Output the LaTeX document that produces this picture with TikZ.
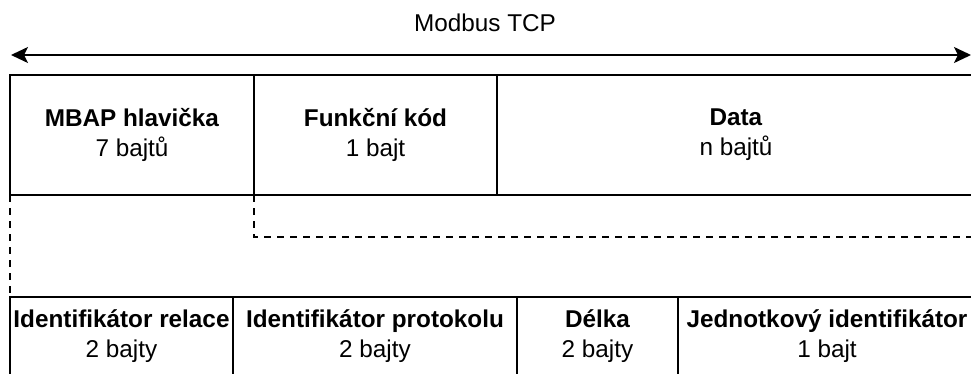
\documentclass[tikz,border=0pt]{standalone}
\usepackage{fontspec}
\setmainfont{Liberation Sans}
\usetikzlibrary{positioning,arrows.meta}

\begin{document}
\begin{tikzpicture}[x=1pt, y=-1pt,
  frame/.style={draw, line width=1.8pt, inner sep=0pt, outer sep=0pt,
    align=center, font=\fontsize{24.3}{30}\selectfont},
  toprow/.style={frame, minimum height=120pt},
  bottomrow/.style={frame, minimum height=78pt},
  guide/.style={line width=1.8pt, dash pattern=on 7pt off 6pt}
]

\useasboundingbox (0,0) rectangle (971,374);
\clip (0,0) rectangle (971,374);

% whole frame span
\node (tcp) at (485,23) {\fontsize{24.3}{30}\selectfont Modbus TCP};
\coordinate (tcpL) at (11,55);
\coordinate (tcpR) at (971,55);
\draw[{Stealth[length=17pt,width=16pt,inset=4pt]}-{Stealth[length=17pt,width=16pt,inset=4pt]}, line width=1.8pt]
  (tcpL) -- (tcpR);

% PDU row
\node[toprow, minimum width=244pt, anchor=north west] (mbap) at (10,75)
  {\textbf{MBAP hlavička}\\7 bajtů};
\node[toprow, minimum width=243pt, right=0pt of mbap] (func)
  {\textbf{Funkční kód}\\1 bajt};
\node[toprow, minimum width=478pt, right=0pt of func] (data)
  {\textbf{Data}\\n bajtů};

% MBAP header fields
\node[bottomrow, minimum width=223pt, anchor=north west] (relace) at (10,297)
  {\textbf{Identifikátor relace}\\2 bajty};
\node[bottomrow, minimum width=284pt, right=0pt of relace] (protokol)
  {\textbf{Identifikátor protokolu}\\2 bajty};
\node[bottomrow, minimum width=161pt, right=0pt of protokol] (delka)
  {\textbf{Délka}\\2 bajty};
\node[bottomrow, minimum width=298pt, right=0pt of delka] (jednotka)
  {\textbf{Jednotkový identifikátor}\\1 bajt};

% dashed guides
\coordinate (pduend) at (990,237);
\draw[guide] (mbap.south west) -- (relace.north west);
\draw[guide] (func.south west) |- (pduend);

\end{tikzpicture}
\end{document}
